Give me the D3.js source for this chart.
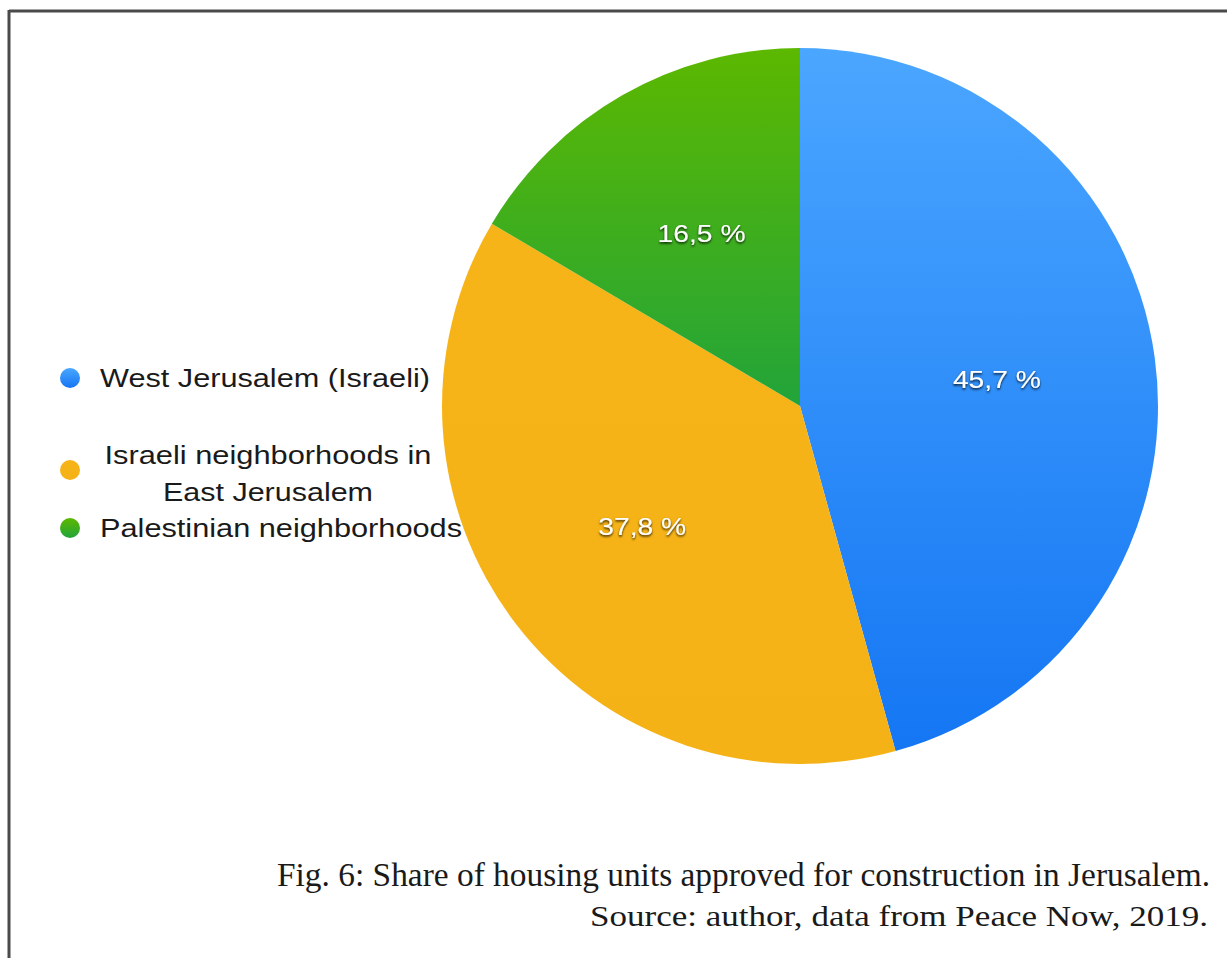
<!DOCTYPE html>
<html>
<head>
<meta charset="utf-8">
<script src="https://cdn.jsdelivr.net/npm/d3@7"></script>
<style>
  body { margin: 0; background: #fff; }
  svg { display: block; }
</style>
</head>
<body>
<svg id="chart" width="1227" height="958"></svg>
<script>
// data
const categories = ["West Jerusalem (Israeli)", "Israeli neighborhoods in East Jerusalem", "Palestinian neighborhoods"];
const shares = [45.7, 37.8, 16.5];
const legendLines = [["West Jerusalem (Israeli)"], ["Israeli neighborhoods in", "East Jerusalem"], ["Palestinian neighborhoods"]];
const colorsTop = ["#4ba6ff", "#f6b418", "#5cb800"];
const colorsBottom = ["#1476f3", "#f5b216", "#22a43a"];

const svg = d3.select("#chart");
const W = 1227, H = 958;
const cx = 800, cy = 406, R = 358;

// frame (left + top edges visible)
svg.append("line").attr("x1", 9).attr("y1", 11).attr("x2", W).attr("y2", 11)
  .attr("stroke", "#4a4a4a").attr("stroke-width", 3);
svg.append("line").attr("x1", 9).attr("y1", 10).attr("x2", 9).attr("y2", H)
  .attr("stroke", "#4a4a4a").attr("stroke-width", 3);

const defs = svg.append("defs");
categories.forEach((c, i) => {
  const g = defs.append("linearGradient").attr("id", "grad" + i)
    .attr("x1", 0).attr("y1", 0).attr("x2", 0).attr("y2", 1);
  g.append("stop").attr("offset", "0%").attr("stop-color", colorsTop[i]);
  g.append("stop").attr("offset", "100%").attr("stop-color", colorsBottom[i]);
});
const f = defs.append("filter").attr("id", "shadow")
  .attr("x", "-20%").attr("y", "-30%").attr("width", "140%").attr("height", "160%");
f.append("feDropShadow").attr("dx", 0).attr("dy", 1.5).attr("stdDeviation", 1.3)
  .attr("flood-color", "#000").attr("flood-opacity", 0.85);

const pie = d3.pie().sort(null).value(d => d);
const arcs = pie(shares);
const arc = d3.arc().innerRadius(0).outerRadius(R);
const labelArc = d3.arc().innerRadius(R * 0.555).outerRadius(R * 0.555);

const g = svg.append("g").attr("transform", `translate(${cx},${cy})`);
g.selectAll("path.slice").data(arcs).enter().append("path")
  .attr("class", "slice")
  .attr("d", arc)
  .attr("fill", (d, i) => `url(#grad${i})`);

const fmt = v => d3.format(".1f")(v).replace(".", ",") + " %";
g.selectAll("text.pct").data(arcs).enter().append("text")
  .attr("class", "pct")
  .attr("transform", d => `translate(${labelArc.centroid(d)})`)
  .attr("text-anchor", "middle")
  .attr("dy", "0.35em")
  .attr("fill", "#fff")
  .attr("filter", "url(#shadow)")
  .attr("textLength", 88)
  .attr("lengthAdjust", "spacingAndGlyphs")
  .style("font-family", "Liberation Sans, Arial, sans-serif")
  .style("font-size", "24px")
  .text(d => fmt(d.data));

// legend
const legendY = [378, 470, 528];
const legendWidths = [[330], [327, 210], [362]];
const legend = svg.append("g");
legendLines.forEach((lines, i) => {
  legend.append("circle").attr("cx", 70).attr("cy", legendY[i]).attr("r", 10)
    .attr("fill", `url(#grad${i})`);
  lines.forEach((l, j) => {
    const t = legend.append("text")
      .style("font-family", "Liberation Sans, Arial, sans-serif")
      .style("font-size", "26px")
      .attr("fill", "#1a1a1a")
      .attr("dy", "0.35em")
      .attr("textLength", legendWidths[i][j])
      .attr("lengthAdjust", "spacingAndGlyphs")
      .text(l);
    if (lines.length === 1) {
      t.attr("x", 100).attr("y", legendY[i]);
    } else {
      t.attr("x", 268).attr("y", legendY[i] - 15 + j * 37).attr("text-anchor", "middle");
    }
  });
});

// caption
svg.append("text").attr("x", 1210).attr("y", 886).attr("text-anchor", "end")
  .style("font-family", "Liberation Serif, Times New Roman, serif")
  .style("font-size", "33px").attr("fill", "#1a1a1a")
  .attr("textLength", 933).attr("lengthAdjust", "spacingAndGlyphs")
  .text("Fig. 6: Share of housing units approved for construction in Jerusalem.");
svg.append("text").attr("x", 1208).attr("y", 926).attr("text-anchor", "end")
  .style("font-family", "Liberation Serif, Times New Roman, serif")
  .style("font-size", "30px").attr("fill", "#1a1a1a")
  .attr("textLength", 618).attr("lengthAdjust", "spacingAndGlyphs")
  .text("Source: author, data from Peace Now, 2019.");
</script>
</body>
</html>
